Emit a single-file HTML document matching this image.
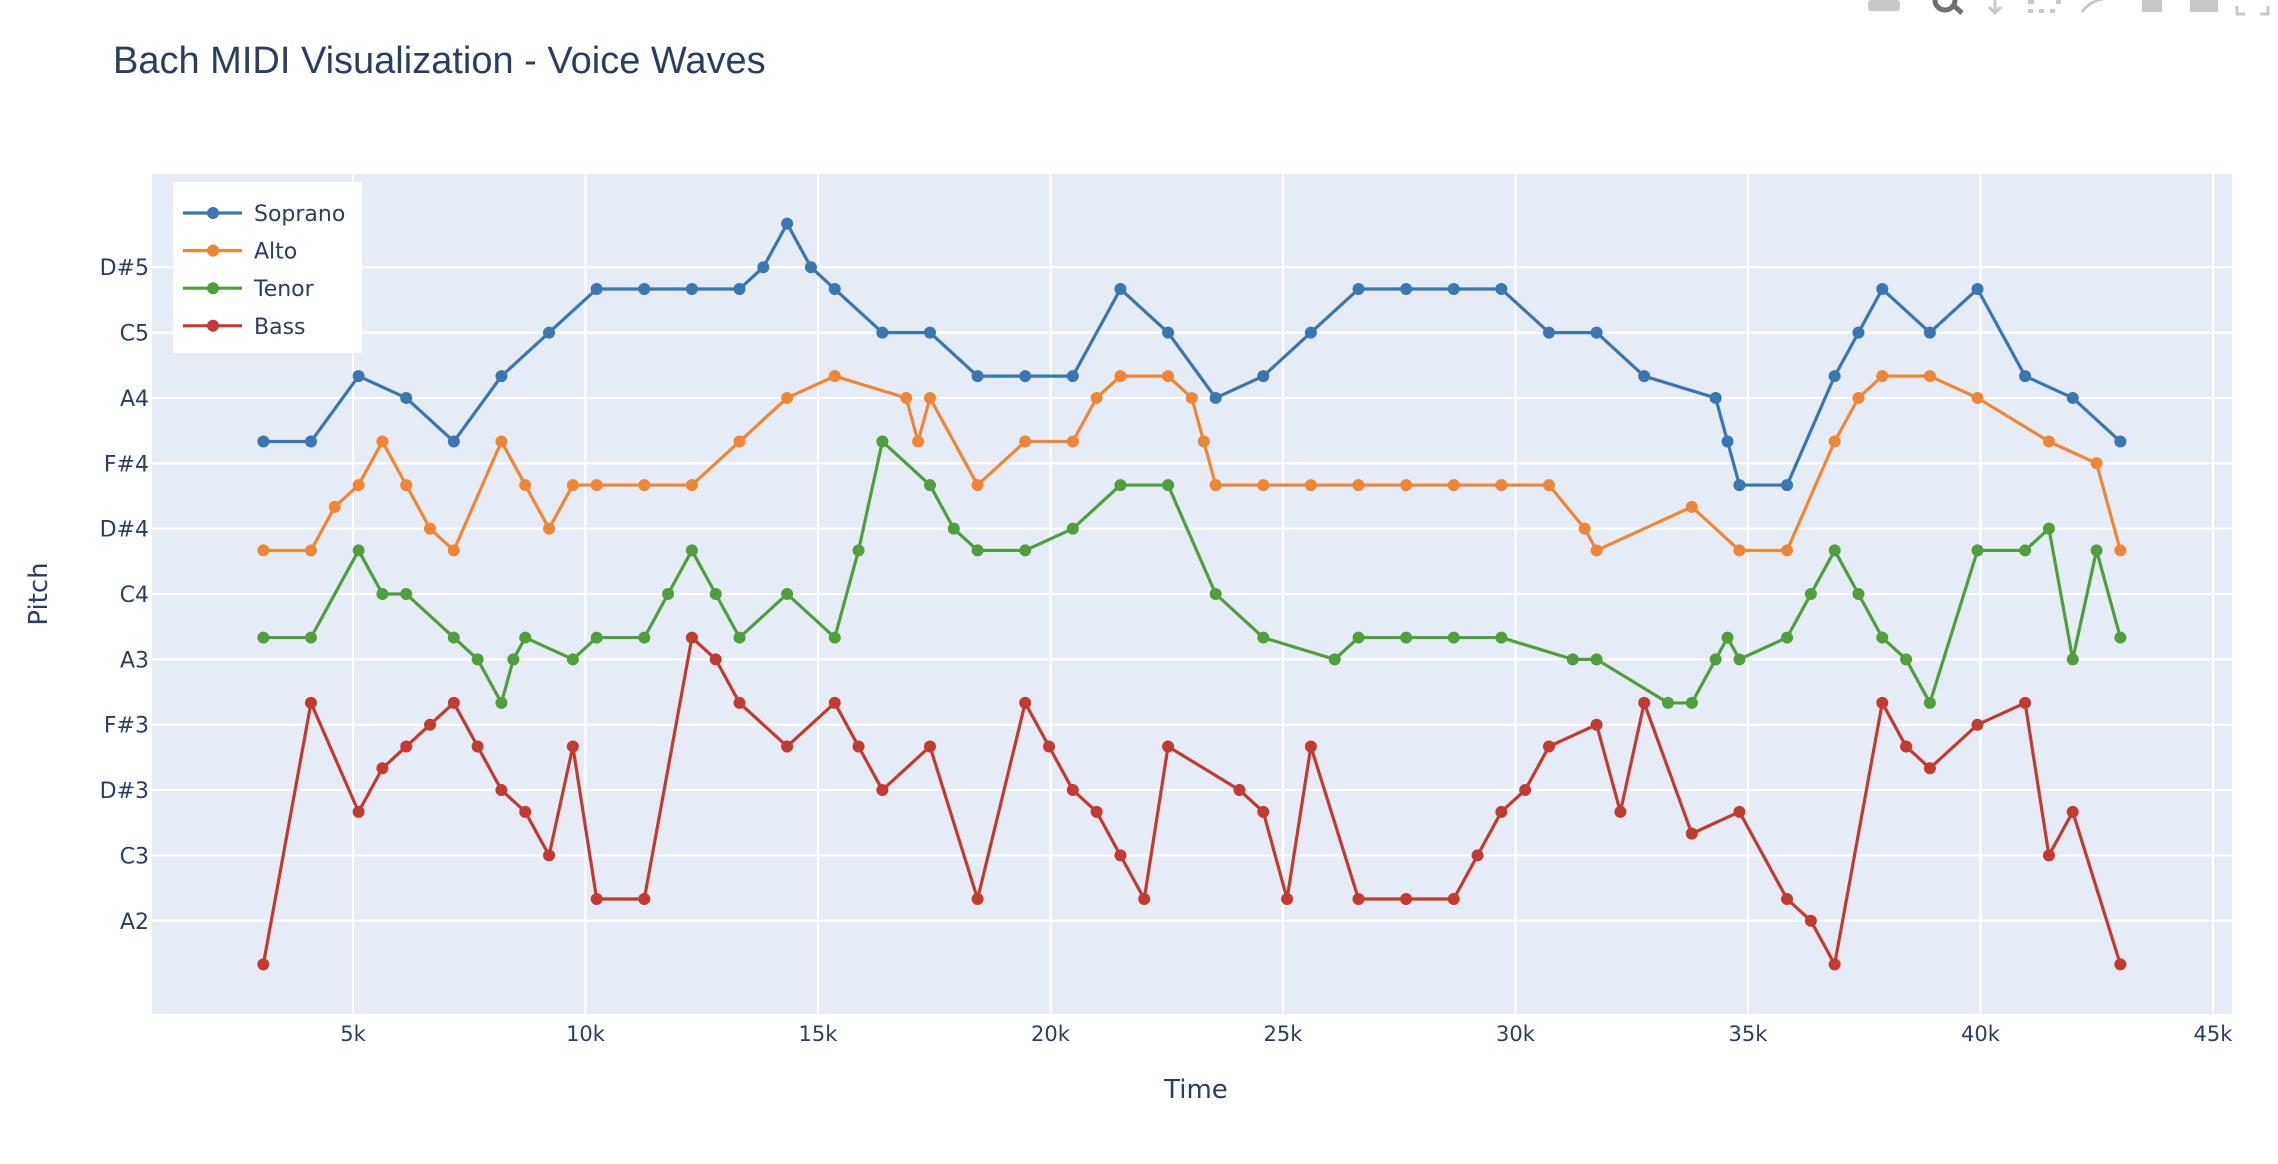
<!DOCTYPE html>
<html><head><meta charset="utf-8"><style>
html,body{margin:0;padding:0;background:#fff;width:2278px;height:1164px;overflow:hidden;}
svg{display:block;font-family:"DejaVu Sans","Liberation Sans",sans-serif;}
</style></head><body>
<svg id="chart" width="2278" height="1164" viewBox="0 0 2278 1164">
  <g fill="#c8c8c8">
    <rect x="1868" y="0" width="32" height="11" rx="3"/>
    <circle cx="1945" cy="0" r="10" fill="none" stroke="#6f6f6f" stroke-width="5"/>
    <line x1="1952" y1="4" x2="1962" y2="13" stroke="#6f6f6f" stroke-width="5"/>
    <path d="M1995 0 V12 M1989 7 L1995 13 L2001 7" stroke="#c8c8c8" stroke-width="3" fill="none"/>
    <g><rect x="2028" y="0" width="6" height="4"/><rect x="2028" y="9" width="5" height="4"/><rect x="2039" y="9" width="5" height="4"/><rect x="2050" y="9" width="5" height="4"/><rect x="2056" y="0" width="5" height="4"/></g>
    <path d="M2082 12 Q2090 0 2108 -2" stroke="#c8c8c8" stroke-width="3" fill="none"/>
    <rect x="2142" y="0" width="20" height="12"/>
    <rect x="2190" y="0" width="28" height="12"/>
    <path d="M2237 6 V14 H2245 M2268 6 V14 H2260" stroke="#c8c8c8" stroke-width="3" fill="none"/>
  </g>
  <text x="113" y="73" font-size="38" font-family="Liberation Sans, sans-serif" fill="#2a3f5f">Bach MIDI Visualization - Voice Waves</text>
  <rect x="152" y="174" width="2080" height="840" fill="#e5ecf6"/>
  <g id="grid"></g>
  <g id="series"></g>
  <g id="axes"></g>
  <text x="1196" y="1098" font-size="26" fill="#2a3f5f" text-anchor="middle">Time</text>
  <text x="0" y="0" font-size="26" fill="#2a3f5f" text-anchor="middle" transform="translate(47,594) rotate(-90)">Pitch</text>
  <g id="legend"></g>
</svg>
<script>
const xTicks = [5000,10000,15000,20000,25000,30000,35000,40000,45000];
const xTickLabels = ["5k","10k","15k","20k","25k","30k","35k","40k","45k"];
const yTicks = [45,48,51,54,57,60,63,66,69,72,75];
const yTickLabels = ["A2","C3","D#3","F#3","A3","C4","D#4","F#4","A4","C5","D#5"];
const seriesNames = ["Soprano","Alto","Tenor","Bass"];
const seriesColors = ["#3a76af","#ef8636","#519e3e","#c43932"];
const sopranoTime = [3072,4096,5120,6144,7168,8192,9216,10240,11264,12288,13312,13824,14336,14848,15360,16384,17408,18432,19456,20480,21504,22528,23552,24576,25600,26624,27648,28672,29696,30720,31744,32768,34304,34560,34816,35840,36864,37376,37888,38912,39936,40960,41984,43008];
const sopranoPitch = [67,67,70,69,67,70,72,74,74,74,74,75,77,75,74,72,72,70,70,70,74,72,69,70,72,74,74,74,74,72,72,70,69,67,65,65,70,72,74,72,74,70,69,67];
const altoTime = [3072,4096,4608,5120,5632,6144,6656,7168,8192,8704,9216,9728,10240,11264,12288,13312,14336,15360,16896,17152,17408,18432,19456,20480,20992,21504,22528,23040,23296,23552,24576,25600,26624,27648,28672,29696,30720,31488,31744,33792,34816,35840,36864,37376,37888,38912,39936,41472,42496,43008];
const altoPitch = [62,62,64,65,67,65,63,62,67,65,63,65,65,65,65,67,69,70,69,67,69,65,67,67,69,70,70,69,67,65,65,65,65,65,65,65,65,63,62,64,62,62,67,69,70,70,69,67,66,62];
const tenorTime = [3072,4096,5120,5632,6144,7168,7680,8192,8448,8704,9728,10240,11264,11776,12288,12800,13312,14336,15360,15872,16384,17408,17920,18432,19456,20480,21504,22528,23552,24576,26112,26624,27648,28672,29696,31232,31744,33280,33792,34304,34560,34816,35840,36352,36864,37376,37888,38400,38912,39936,40960,41472,41984,42496,43008];
const tenorPitch = [58,58,62,60,60,58,57,55,57,58,57,58,58,60,62,60,58,60,58,62,67,65,63,62,62,63,65,65,60,58,57,58,58,58,58,57,57,55,55,57,58,57,58,60,62,60,58,57,55,62,62,63,57,62,58];
const bassTime = [3072,4096,5120,5632,6144,6656,7168,7680,8192,8704,9216,9728,10240,11264,12288,12800,13312,14336,15360,15872,16384,17408,18432,19456,19968,20480,20992,21504,22016,22528,24064,24576,25088,25600,26624,27648,28672,29184,29696,30208,30720,31744,32256,32768,33792,34816,35840,36352,36864,37888,38400,38912,39936,40960,41472,41984,43008];
const bassPitch = [43,55,50,52,53,54,55,53,51,50,48,53,46,46,58,57,55,53,55,53,51,53,46,55,53,51,50,48,46,53,51,50,46,53,46,46,46,48,50,51,53,54,50,55,49,50,46,45,43,55,53,52,54,55,48,50,43];

const NS = "http://www.w3.org/2000/svg";
const PL = 152, PR = 2232, PT = 174, PB = 1014;
const X0 = 677, X1 = 45409, Y0 = 40.72, Y1 = 79.28;
function xs(t){ return PL + (t - X0) / (X1 - X0) * (PR - PL); }
function ys(m){ return PB - (m - Y0) / (Y1 - Y0) * (PB - PT); }
function mk(tag, attrs, parent){ const e = document.createElementNS(NS, tag); for (const k in attrs) e.setAttribute(k, attrs[k]); parent.appendChild(e); return e; }

const grid = document.getElementById("grid");
const axes = document.getElementById("axes");
xTicks.forEach((t, i) => {
  const l = mk("line", {x1: xs(t), x2: xs(t), y1: PT, y2: PB, stroke: "#fff", "stroke-width": 2}, grid);
  
  
  const tx = mk("text", {x: xs(t), y: 1041, "font-size": 21, fill: "#2a3f5f", "text-anchor": "middle"}, axes);
  tx.textContent = xTickLabels[i];
  
  
});
yTicks.forEach((m, i) => {
  const l = mk("line", {x1: PL, x2: PR, y1: ys(m), y2: ys(m), stroke: "#fff", "stroke-width": 2}, grid);
  
  
  const tx = mk("text", {x: 149, y: ys(m) + 8, "font-size": 22, fill: "#2a3f5f", "text-anchor": "end"}, axes);
  tx.textContent = yTickLabels[i];
  
  
});

const seriesData = [[sopranoTime, sopranoPitch], [altoTime, altoPitch], [tenorTime, tenorPitch], [bassTime, bassPitch]];
const sLayer = document.getElementById("series");
seriesData.forEach((s, si) => {
  const g = mk("g", {}, sLayer);
  
  
  const pts = s[0].map((t, i) => xs(t) + "," + ys(s[1][i])).join(" ");
  const pl = mk("polyline", {points: pts, fill: "none", stroke: seriesColors[si], "stroke-width": 3.2, "stroke-linejoin": "round"}, g);
  
  
  s[0].forEach((t, i) => {
    const c = mk("circle", {cx: xs(t), cy: ys(s[1][i]), r: 6, fill: seriesColors[si]}, g);
    
    
  });
});

const leg = document.getElementById("legend");
const lb = mk("rect", {x: 173, y: 182, width: 189, height: 171, fill: "#fff"}, leg);


seriesNames.forEach((n, i) => {
  const cy = 213 + i * 37.6;
  const g = mk("g", {}, leg);
  
  
  mk("line", {x1: 183, x2: 242, y1: cy, y2: cy, stroke: seriesColors[i], "stroke-width": 3.2}, g);
  mk("circle", {cx: 213, cy: cy, r: 6, fill: seriesColors[i]}, g);
  const t = mk("text", {x: 254, y: cy + 8, "font-size": 22, fill: "#2a3f5f"}, g);
  t.textContent = n;
});
</script>
</body></html>
